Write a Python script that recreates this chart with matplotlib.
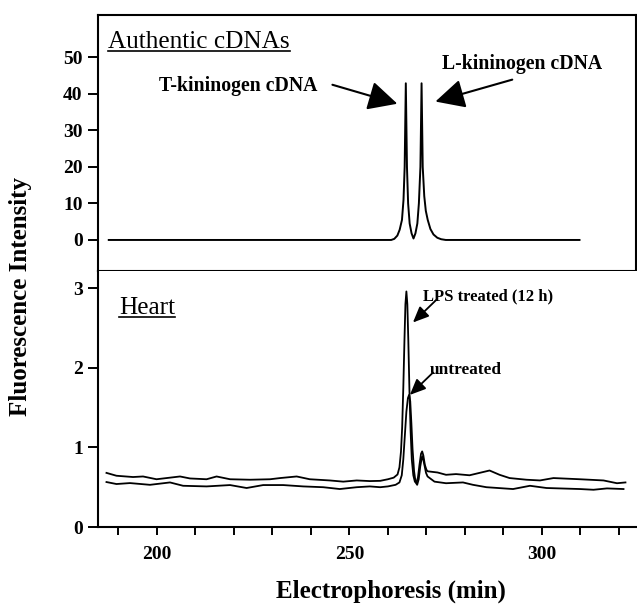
import matplotlib
matplotlib.use("Agg")
import matplotlib.pyplot as plt
from matplotlib.lines import Line2D

plt.rcParams['font.family'] = ['Liberation Serif', 'DejaVu Serif']

# authentic cDNA trace (top panel)
cdna_t = [187.5, 258.0, 261.0, 261.8, 262.6, 263.2, 263.8, 264.2, 264.5, 264.8,
          265.1, 265.4, 265.8, 266.3, 266.8, 267.3, 267.8, 268.2, 268.6, 268.9,
          269.2, 269.6, 270.0, 270.5, 271.2, 272.0, 273.0, 274.0, 275.2, 310.0]
cdna_y = [0, 0, 0, 0.3, 1.2, 2.8, 5.5, 11, 20, 42.9,
          20, 10, 4.5, 1.8, 0.4, 1.8, 4.5, 10, 20, 42.9,
          20, 12, 8, 5.5, 3.0, 1.5, 0.6, 0.2, 0, 0]

# heart, LPS treated (12 h)
lps_t = [186.9, 189.5, 193.8, 196.4, 199.9, 206.0, 208.6, 212.9, 215.5, 219.0,
         224.2, 229.4, 232.0, 236.3, 239.7, 244.9, 248.4, 251.9, 255.3, 258.0,
         260.0, 261.5, 262.5, 263.0, 263.4, 263.7, 264.0, 264.3, 264.55, 264.8,
         265.05, 265.3, 265.6, 265.9, 266.2, 266.6, 267.0, 267.4, 267.8, 268.2,
         268.6, 268.9, 269.2, 269.6, 270.0, 270.3,
         272.9, 275.1, 277.7, 281.2, 283.8, 286.4, 289.0, 291.6, 296.0, 299.5,
         303.0, 309.9, 316.0, 319.5, 321.7]
lps_y = [0.68, 0.644, 0.628, 0.635, 0.60, 0.635, 0.61, 0.60, 0.635, 0.60,
         0.594, 0.60, 0.615, 0.635, 0.60, 0.585, 0.57, 0.585, 0.577, 0.58,
         0.60, 0.62, 0.66, 0.75, 0.95, 1.25, 1.75, 2.35, 2.8, 2.96,
         2.8, 2.35, 1.7, 1.2, 0.85, 0.65, 0.57, 0.56, 0.62, 0.78,
         0.92, 0.95, 0.9, 0.78, 0.72, 0.70,
         0.685, 0.656, 0.665, 0.65, 0.68, 0.71, 0.656, 0.615, 0.594, 0.585,
         0.615, 0.60, 0.585, 0.55, 0.56]

# heart, untreated
unt_t = [186.9, 189.5, 193.0, 198.2, 203.4, 206.8, 212.9, 219.0, 223.3, 227.6,
         232.8, 238.0, 243.2, 247.5, 251.9, 255.3, 258.0, 260.0, 262.0, 263.0,
         263.6, 264.0, 264.4, 264.8, 265.2, 265.5, 265.8, 266.1, 266.4, 266.8,
         267.2, 267.6, 268.0, 268.4, 268.8, 269.0, 269.4, 269.9, 270.3,
         272.1, 275.1, 279.5, 282.1, 285.6, 292.5,
         296.9, 301.2, 309.9, 313.4, 316.9, 321.2]
unt_y = [0.565, 0.54, 0.552, 0.53, 0.56, 0.518, 0.51, 0.527, 0.49, 0.527,
         0.527, 0.51, 0.50, 0.477, 0.50, 0.51, 0.50, 0.51, 0.53, 0.56,
         0.65, 0.85, 1.15, 1.45, 1.62, 1.66, 1.58, 1.3, 0.98, 0.7,
         0.56, 0.53, 0.6, 0.76, 0.87, 0.89, 0.8, 0.68, 0.635,
         0.57, 0.55, 0.56, 0.53, 0.50, 0.477,
         0.518, 0.49, 0.477, 0.468, 0.485, 0.477]

x_ticks = [190, 200, 210, 220, 230, 240, 250, 260, 270, 280, 290, 300, 310, 320]
x_labels = ['', '200', '', '', '', '', '250', '', '', '', '', '300', '', '']
top_ticks = [0, 10, 20, 30, 40, 50]
bot_ticks = [0, 1, 2, 3]

W, H = 637, 604
fig = plt.figure(figsize=(W / 100, H / 100), dpi=100)
left = 98 / W
ax1 = fig.add_axes([left, 1 - 271 / H, 1 - left - 1 / W, (271 - 15) / H])
ax2 = fig.add_axes([left, 1 - 527 / H, 1 - left, (527 - 271) / H])

for ax in (ax1, ax2):
    ax.set_xlim(184.7, 324.7)
    for s in ax.spines.values():
        s.set_linewidth(1.5)
    ax.tick_params(axis='y', direction='out', length=7, width=1.4, pad=4,
                   labelsize=14)

ax1.plot(cdna_t, cdna_y, color='k', lw=1.4)
ax1.set_ylim(-8.5, 61.6)
ax1.set_yticks(top_ticks)
ax1.set_yticklabels([str(v) for v in top_ticks], fontweight='bold')
ax1.set_xticks([])

ax2.plot(lps_t, lps_y, color='k', lw=1.3)
ax2.plot(unt_t, unt_y, color='k', lw=1.3)
ax2.set_ylim(0, 3.217)
ax2.set_yticks(bot_ticks)
ax2.set_yticklabels([str(v) for v in bot_ticks], fontweight='bold')
ax2.set_xticks(x_ticks)
ax2.set_xticklabels(x_labels, fontweight='bold')
ax2.tick_params(axis='x', direction='out', length=6, width=1.4, pad=8,
                labelsize=14)
ax2.spines['top'].set_visible(False)
ax2.spines['right'].set_visible(False)

t1 = ax1.text(187.3, 54.2, 'Authentic cDNAs', fontsize=18.2, va='center', ha='left')
t2 = ax2.text(190.1, 2.75, 'Heart', fontsize=18.2, va='center', ha='left')

big = dict(arrowstyle='-|>,head_length=0.9,head_width=0.45', color='k', lw=1.5,
           mutation_scale=20, shrinkA=0, shrinkB=0)
ax1.annotate('', xy=(262.6, 37.3), xytext=(245.7, 42.5), arrowprops=big)
ax1.annotate('', xy=(272.5, 37.9), xytext=(292.5, 43.9), arrowprops=big)
ax1.text(221.2, 42.2, 'T-kininogen cDNA', fontsize=14.2, fontweight='bold',
         ha='center', va='center')
ax1.text(295.0, 48.2, 'L-kininogen cDNA', fontsize=14.2, fontweight='bold',
         ha='center', va='center')

small = dict(arrowstyle='-|>,head_length=0.8,head_width=0.35', color='k', lw=1.3,
             mutation_scale=12, shrinkA=0, shrinkB=0)
ax2.annotate('', xy=(266.5, 2.57), xytext=(272.7, 2.86), arrowprops=small)
ax2.annotate('', xy=(265.7, 1.66), xytext=(271.7, 1.94), arrowprops=small)
ax2.text(269.1, 2.90, 'LPS treated (12 h)', fontsize=12, fontweight='bold',
         ha='left', va='center')
ax2.text(270.9, 1.97, 'untreated', fontsize=12.4, fontweight='bold',
         ha='left', va='center')

fig.text(21 / W, 1 - 297 / H, 'Fluorescence Intensity', rotation=90,
         fontsize=18, fontweight='bold', ha='center', va='center')
fig.text(391 / W, 1 - 591 / H, 'Electrophoresis (min)', fontsize=18,
         fontweight='bold', ha='center', va='center')

# underline the panel titles
fig.canvas.draw()
inv = fig.transFigure.inverted()
for t in (t1, t2):
    bb = t.get_window_extent()
    (x0, y0), (x1, _) = inv.transform([(bb.x0, bb.y0 + 2.5), (bb.x1, bb.y0)])
    fig.add_artist(Line2D([x0, x1], [y0, y0], color='k', lw=1.2,
                          transform=fig.transFigure))

fig.savefig('out.png', dpi=100)
